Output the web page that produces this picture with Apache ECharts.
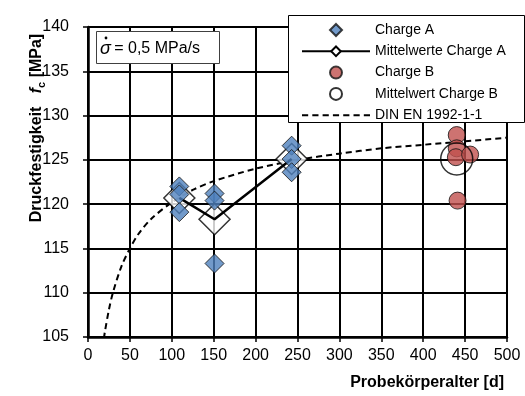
<!DOCTYPE html>
<html><head><meta charset="utf-8">
<script src="https://cdn.jsdelivr.net/npm/echarts/dist/echarts.min.js"></script>
<style>html,body{margin:0;padding:0;background:#fff}#c{width:525px;height:396px}</style>
</head><body><div id="c"></div>
<script>
// ---- data ----
const xTickMin = 0, xTickMax = 500, xTickStep = 50;
const yTickMin = 105, yTickMax = 140, yTickStep = 5;

const chargeA_age = [109, 109, 109, 151, 151, 151, 243, 243, 243];
const chargeA_fc  = [122.0, 121.1, 119.1, 121.2, 120.4, 113.3, 126.6, 125.1, 123.6];

const meanA_age = [109, 151, 243];
const meanA_fc  = [120.7, 118.3, 125.1];

const chargeB_age = [440, 440, 439, 456, 441];
const chargeB_fc  = [127.8, 126.3, 125.3, 125.6, 120.4];

const meanB_age = [440];
const meanB_fc  = [125.1];

const din_age = [19, 20, 25, 30, 40, 50, 60, 75, 100, 125, 150, 200, 250, 300, 350, 400, 450, 500];
const din_fc  = [104.8, 105.5, 108.1, 110.1, 113.0, 115.0, 116.6, 118.3, 120.2, 121.6, 122.6, 124.0, 125.0, 125.7, 126.3, 126.7, 127.1, 127.5];

const names = ['Charge A', 'Mittelwerte Charge A', 'Charge B', 'Mittelwert Charge B', 'DIN EN 1992-1-1'];

// ---- helpers ----
const pairs = (xs, ys) => xs.map((x, i) => [x, ys[i]]);
const FONT = '"Liberation Sans", Arial, sans-serif';

let dash = 'path://';
for (let k = 0; k < 7; k++) dash += 'M' + (k * 10) + ' 0h6v2h-6z';
const diamondIcon = 'path://M6 0L12 6L6 12L0 6Z';

const chart = echarts.init(document.getElementById('c'), null, {renderer: 'canvas'});
chart.setOption({
  animation: false,
  backgroundColor: '#fff',
  grid: {left: 88, right: 18, top: 27, bottom: 59, containLabel: false},
  xAxis: {
    type: 'value', min: xTickMin, max: xTickMax, interval: xTickStep,
    axisLine: {show: true, onZero: false, lineStyle: {color: '#000', width: 2.5}},
    axisTick: {show: true, length: 5, inside: false, lineStyle: {color: '#000', width: 1.5}},
    axisLabel: {color: '#000', fontSize: 16, fontFamily: FONT, margin: 11},
    splitLine: {show: true, lineStyle: {color: '#000', width: 2}}
  },
  yAxis: {
    type: 'value', min: yTickMin, max: yTickMax, interval: yTickStep,
    axisLine: {show: true, onZero: false, lineStyle: {color: '#000', width: 2.5}},
    axisTick: {show: true, length: 5, inside: false, lineStyle: {color: '#000', width: 1.5}},
    axisLabel: {color: '#000', fontSize: 16, fontFamily: FONT, margin: 19},
    splitLine: {show: true, lineStyle: {color: '#000', width: 2}}
  },
  legend: {
    orient: 'vertical', left: 296, top: 18, z: 101,
    itemWidth: 68, itemHeight: 12, itemGap: 7.3, symbolKeepAspect: true,
    textStyle: {color: '#000', fontSize: 14, fontFamily: FONT, lineHeight: 14},
    data: [
      {name: names[0], icon: diamondIcon},
      names[1], names[2], names[3],
      {name: names[4], icon: dash}
    ]
  },
  series: [
    {
      name: names[4], type: 'line', z: 2, data: pairs(din_age, din_fc),
      smooth: 0.3, symbol: 'none', showSymbol: false,
      itemStyle: {color: '#000'},
      lineStyle: {color: '#000', width: 2, type: [6, 4]}
    },
    {
      name: names[1], type: 'line', z: 4, data: pairs(meanA_age, meanA_fc),
      symbol: 'diamond', showSymbol: false, symbolSize: 31,
      itemStyle: {color: '#fff', borderColor: '#000', borderWidth: 1.5},
      lineStyle: {color: '#000', width: 2.5}
    },
    {
      name: names[1], type: 'scatter', z: 3, data: pairs(meanA_age, meanA_fc),
      symbol: 'diamond', symbolSize: 31,
      itemStyle: {color: '#fff', borderColor: '#000', borderWidth: 1.5}
    },
    {
      name: names[0], type: 'scatter', z: 5, data: pairs(chargeA_age, chargeA_fc),
      symbol: 'diamond', symbolSize: 19, symbolKeepAspect: true,
      itemStyle: {color: '#4F81BD', borderColor: '#111', borderWidth: 1}
    },
    {
      name: names[2], type: 'scatter', z: 5, data: pairs(chargeB_age, chargeB_fc),
      symbol: 'circle', symbolSize: 17,
      itemStyle: {color: '#C0504D', borderColor: '#111', borderWidth: 1}
    },
    {
      name: names[3], type: 'scatter', z: 6, data: pairs(meanB_age, meanB_fc),
      symbol: 'circle', symbolSize: 32,
      itemStyle: {color: 'rgba(255,255,255,0)', borderColor: '#000', borderWidth: 1.5}
    }
  ],
  graphic: [
    {type: 'rect', z: 100, shape: {x: 288.5, y: 15.5, width: 236, height: 107},
     style: {fill: '#fff', stroke: '#000', lineWidth: 1}},
    {type: 'rect', z: 100, shape: {x: 96.5, y: 31.5, width: 123, height: 32},
     style: {fill: '#fff', stroke: '#404040', lineWidth: 1}},
    {type: 'text', z: 101, x: 100, y: 49,
     style: {text: '{s|σ} {t|= 0,5 MPa/s}', verticalAlign: 'middle', align: 'left',
       rich: {
         s: {fontSize: 18, fontStyle: 'italic', fontFamily: FONT, fill: '#000'},
         t: {fontSize: 16, fontFamily: FONT, fill: '#000'}
       }}},
    {type: 'circle', z: 101, shape: {cx: 106, cy: 38, r: 1.4}, style: {fill: '#000'}},
    {type: 'text', z: 101, x: 37, y: 128, rotation: Math.PI / 2,
     style: {text: '{b|Druckfestigkeit   }{i|f}{c|c}{b| [MPa]}', align: 'center', verticalAlign: 'middle',
       rich: {
         b: {fontSize: 16, fontWeight: 'bold', fontFamily: FONT, fill: '#000', lineHeight: 20, verticalAlign: 'middle'},
         i: {fontSize: 16, fontWeight: 'bold', fontStyle: 'italic', fontFamily: FONT, fill: '#000', lineHeight: 20, verticalAlign: 'middle'},
         c: {fontSize: 11, fontWeight: 'bold', fontFamily: FONT, fill: '#000', lineHeight: 20, verticalAlign: 'bottom'}
       }}},
    {type: 'text', z: 101, x: 504, y: 383,
     style: {text: 'Probekörperalter [d]', align: 'right', verticalAlign: 'middle',
       fontSize: 16, fontWeight: 'bold', fontFamily: FONT, fill: '#000'}}
  ]
});
</script>
</body></html>
